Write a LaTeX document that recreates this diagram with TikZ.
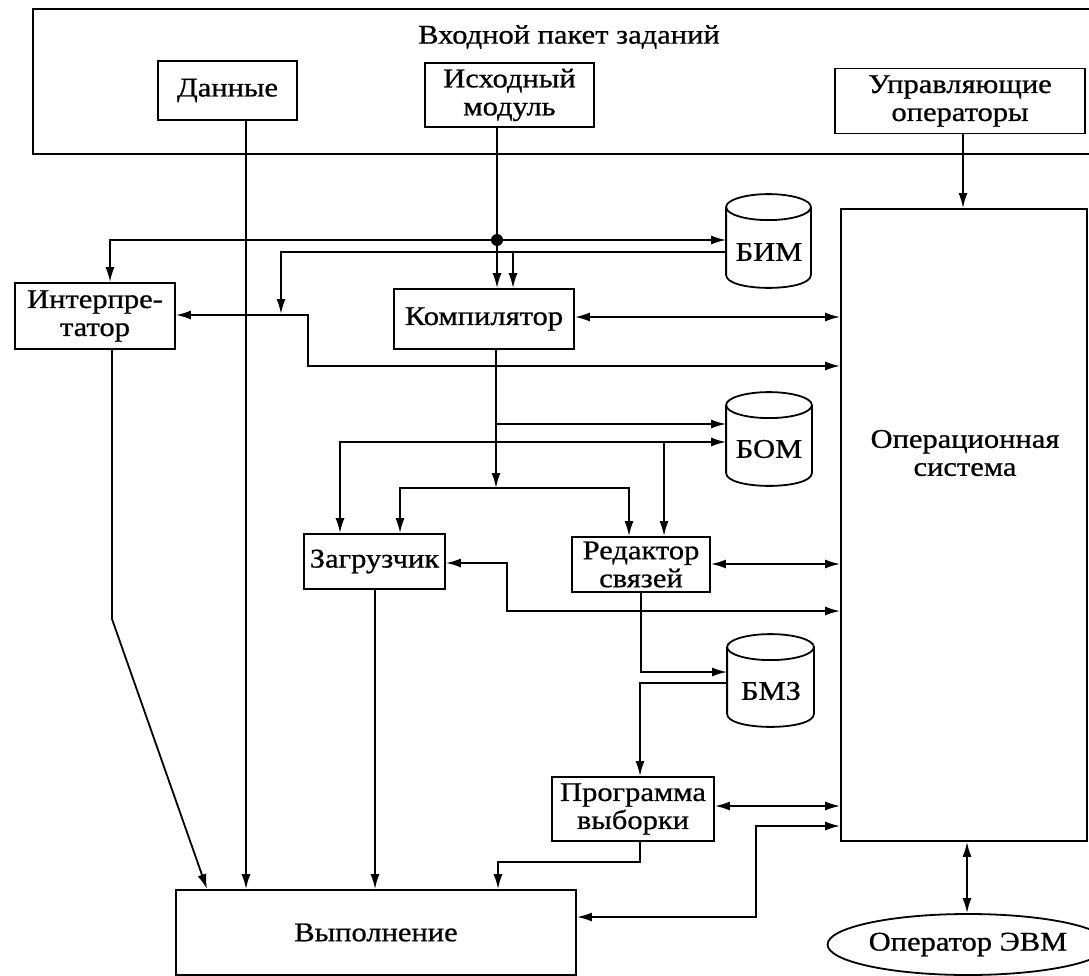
\documentclass[tikz,border=0pt]{standalone}
\usepackage{fontspec}
\setmainfont{Liberation Serif}[FakeStretch=1.13,FakeBold=0.8]
\usetikzlibrary{arrows.meta,calc,shapes.geometric}
\tikzset{
  box/.style={draw, inner sep=0pt, align=center},
  plain/.style={inner sep=0pt, align=center},
  cyl/.style={inner sep=0pt, draw=none},
  arr/.style={-{Latex[length=15pt,width=9pt]}},
  barr/.style={{Latex[length=15pt,width=9pt]}-{Latex[length=15pt,width=9pt]}},
}
\newcommand{\drumdraw}[1]{%
  \draw ([yshift=-13pt]#1.north west) -- ([yshift=13pt]#1.south west)
     .. controls ([yshift=-4.33pt]#1.south west) and ([yshift=-4.33pt]#1.south east) ..
     ([yshift=13pt]#1.south east) -- ([yshift=-13pt]#1.north east);
  \draw let \p1=($(#1.east)-(#1.west)$) in ([yshift=-13pt]#1.north) ellipse [x radius=0.5*\x1, y radius=13pt];
}
\begin{document}
\begin{tikzpicture}[x=1pt,y=-1pt,line width=1.8pt,font=\fontsize{27}{28}\selectfont]
\useasboundingbox (0,0) rectangle (1089,976);

% outer package box (open on the right, cut by the page edge)
\node[plain, minimum width=1055pt, minimum height=143pt] (pack) at (561.5,81.5) {};
\draw (pack.north east) -- (pack.north west) -- (pack.south west) -- (pack.south east);
\node[plain] (title) at (569,37) {Входной пакет заданий};

\node[box, minimum width=139pt, minimum height=59pt] (dan) at (227.5,90.5) {Данные};
\node[box, minimum width=169pt, minimum height=64pt] (src) at (509.5,95) {Исходный\\модуль};
\node[box, minimum width=250pt, minimum height=65pt] (ctl) at (960,101) {Управляющие\\операторы};

\node[box, minimum width=246pt, minimum height=632pt] (os) at (964,525) {};
\node[plain] (ostxt) at (965,453) {Операционная\\система};

\node[cyl, minimum width=83pt, minimum height=92pt] (bim) at (768.5,241) {};
\drumdraw{bim}
\node[plain] (bimtxt) at (769,252) {БИМ};
\node[cyl, minimum width=84pt, minimum height=92pt] (bom) at (769,439) {};
\drumdraw{bom}
\node[plain] (bomtxt) at (769,449) {БОМ};
\node[cyl, minimum width=85pt, minimum height=91pt] (bmz) at (770.5,680.5) {};
\drumdraw{bmz}
\node[plain] (bmztxt) at (771,691) {БМЗ};

\node[box, minimum width=160pt, minimum height=66pt] (int) at (95,316) {Интерпре-\\татор};
\node[box, minimum width=180pt, minimum height=60pt] (comp) at (484,319) {Компилятор};
\node[box, minimum width=141pt, minimum height=55pt] (zag) at (374.5,561.5) {Загрузчик};
\node[box, minimum width=138pt, minimum height=55pt] (red) at (641,564.5) {Редактор\\связей};
\node[box, minimum width=162pt, minimum height=64pt] (prog) at (633,809) {Программа\\выборки};
\node[box, minimum width=400pt, minimum height=85pt] (vyp) at (376,932.5) {Выполнение};
\node[ellipse, draw, inner sep=0pt, minimum width=227pt, minimum height=61pt] (oper) at (968,944.5) {Оператор ЭВМ};

% connectors
\draw[arr] (246,0 |- dan.south) -- (246,0 |- vyp.north);
\draw (497,0 |- src.south) -- (497,240) coordinate (j1);
\fill (j1) circle (6pt);
\draw[arr] (j1) -| (110,0 |- int.north);
\draw[arr] (j1) -- (bim.west |- j1);
\draw[arr] (j1) -- (j1 |- comp.north);
\draw[arr] (bim.west |- 0,252) -| (281,314);
\draw[arr] (513,252) -- (513,0 |- comp.north);
\draw[barr] (int.east |- 0,315) -- (308,315) -- (308,366) -- (os.west |- 0,366);
\draw[barr] (comp.east |- 0,317) -- (os.west |- 0,317);

\draw[arr] (496,0 |- comp.south) -- (496,488) coordinate (j2);
\draw[arr] (496,424) -- (bom.west |- 0,424);
\draw[arr] (j2) -| (400,0 |- zag.north);
\draw[arr] (j2) -| (629,0 |- red.north);
\draw[barr] (340,0 |- zag.north) |- (bom.west |- 0,442);
\draw[arr] (664,442) -- (664,0 |- red.north);

\draw[barr] (zag.east |- 0,563) -- (507,563) -- (507,611) -- (os.west |- 0,611);
\draw[barr] (red.east |- 0,564) -- (os.west |- 0,564);
\draw[arr] (641,0 |- red.south) |- (bmz.west |- 0,672);
\draw[arr] (bmz.west |- 0,683) -| (640,0 |- prog.north);
\draw[barr] (prog.east |- 0,806) -- (os.west |- 0,806);

\draw[arr] (375,0 |- zag.south) -- (375,0 |- vyp.north);
\draw[arr] (112,0 |- int.south) -- (112,619) -- (207,0 |- vyp.north);
\draw[arr] (640,0 |- prog.south) -- (640,862) -| (498,0 |- vyp.north);
\draw[barr] (vyp.east |- 0,917) -- (756,917) -- (756,826) -- (os.west |- 0,826);
\draw[barr] (967,0 |- os.south) -- (967,0 |- oper.north);
\draw[arr] (963,0 |- ctl.south) -- (963,0 |- os.north);
\end{tikzpicture}
\end{document}
